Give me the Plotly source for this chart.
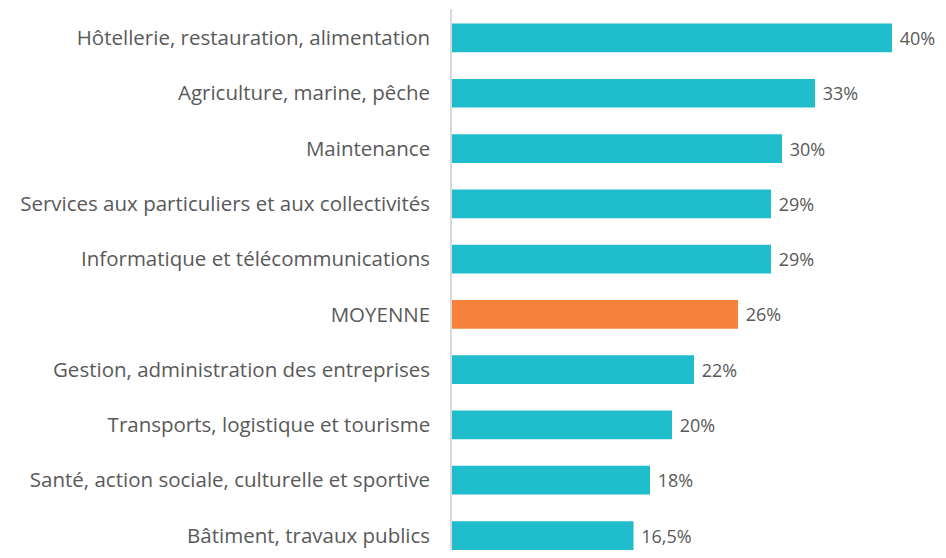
import plotly.graph_objects as go

categories = [
    "Hôtellerie, restauration, alimentation",
    "Agriculture, marine, pêche",
    "Maintenance",
    "Services aux particuliers et aux collectivités",
    "Informatique et télécommunications",
    "MOYENNE",
    "Gestion, administration des entreprises",
    "Transports, logistique et tourisme",
    "Santé, action sociale, culturelle et sportive",
    "Bâtiment, travaux publics",
]
values = [40, 33, 30, 29, 29, 26, 22, 20, 18, 16.5]
labels = ["40%", "33%", "30%", "29%", "29%", "26%", "22%", "20%", "18%", "16,5%"]

teal = "#1FBCCC"
orange = "#F5813B"
colors = [orange if c == "MOYENNE" else teal for c in categories]

FONT = "Open Sans"
FS = 20.5

fig = go.Figure(
    go.Bar(
        x=values,
        y=categories,
        orientation="h",
        marker=dict(color=colors, line=dict(width=0)),
        width=0.52,
        text=labels,
        textposition="outside",
        texttemplate=" %{text}",
        textfont=dict(family=FONT, size=18, color="#595959"),
        cliponaxis=False,
        constraintext="none",
    )
)

fig.update_layout(
    width=930,
    height=542,
    margin=dict(l=444, r=0, t=1, b=0),
    paper_bgcolor="white",
    plot_bgcolor="white",
    showlegend=False,
    font=dict(family=FONT, size=FS, color="#595959"),
    xaxis=dict(range=[0, 486 / 11], visible=False, showgrid=False, zeroline=False),
    yaxis=dict(
        range=[9.262, -0.524],
        showline=True,
        linecolor="#D9D9D9",
        linewidth=1.5,
        ticks="",
        ticklabelstandoff=16,
        showgrid=False,
        tickfont=dict(family=FONT, size=FS, color="#595959"),
    ),
)

fig.write_html("out.html")
